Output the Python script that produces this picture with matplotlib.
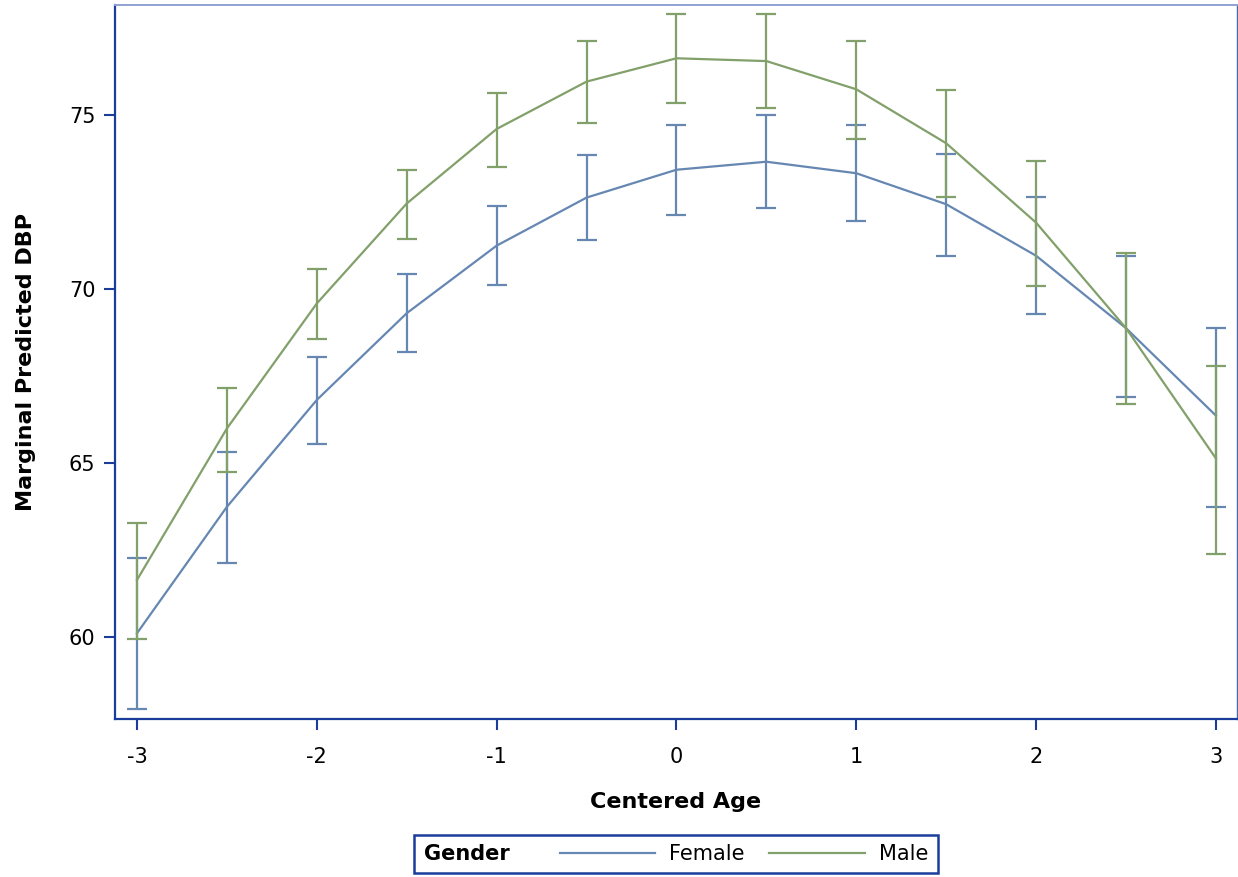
import numpy as np
import matplotlib.pyplot as plt
from matplotlib.offsetbox import HPacker

# data
age = [-3, -2.5, -2, -1.5, -1, -0.5, 0, 0.5, 1, 1.5, 2, 2.5, 3]

female_mean = [60.12, 63.75, 66.82, 69.31, 71.25, 72.63, 73.43, 73.66, 73.33, 72.44, 70.96, 68.88, 66.37]
female_upper = [62.27, 65.33, 68.04, 70.43, 72.39, 73.85, 74.71, 75.00, 74.71, 73.89, 72.64, 70.96, 68.90]
female_lower = [57.94, 62.15, 65.57, 68.20, 70.11, 71.40, 72.13, 72.32, 71.96, 70.96, 69.29, 66.90, 63.75]

male_mean = [61.65, 66.00, 69.59, 72.46, 74.60, 75.96, 76.63, 76.55, 75.74, 74.19, 71.91, 68.88, 65.14]
male_upper = [63.28, 67.17, 70.57, 73.41, 75.63, 77.13, 77.89, 77.89, 77.14, 75.73, 73.69, 71.03, 67.80]
male_lower = [59.96, 64.74, 68.57, 71.45, 73.52, 74.78, 75.35, 75.21, 74.32, 72.64, 70.10, 66.70, 62.40]

x_ticks = [-3, -2, -1, 0, 1, 2, 3]
y_ticks = [60, 65, 70, 75]

blue = '#6587b2'
green = '#82a06a'
axis_col = '#1a3d9c'

plt.rcParams['font.family'] = ['DejaVu Sans']

fig = plt.figure(figsize=(12.38, 8.77), dpi=100)
ax = fig.add_axes([115/1238, 1 - 719/877, 1122/1238, 714/877])

series = [('Female', female_mean, female_lower, female_upper, blue),
          ('Male', male_mean, male_lower, male_upper, green)]
handles = []
for name, m, lo, hi, col in series:
    m = np.array(m)
    yerr = [m - np.array(lo), np.array(hi) - m]
    ax.errorbar(age, m, yerr=yerr, fmt='none', ecolor=col, elinewidth=1.6,
                capsize=7.5, capthick=1.6)
    ln, = ax.plot(age, m, color=col, lw=1.6, label=name)
    handles.append(ln)

ax.set_xlim(-3.122, 3.117)
ax.set_ylim(57.66, 78.16)
ax.set_xticks(x_ticks)
ax.set_yticks(y_ticks)
ax.set_xticklabels([str(t) for t in x_ticks])

for side in ['left', 'bottom']:
    ax.spines[side].set_color(axis_col)
    ax.spines[side].set_linewidth(1.6)
ax.spines['top'].set_color('#8ea2d2')
ax.spines['top'].set_linewidth(1.4)
ax.spines['right'].set_color('#4a68b0')
ax.spines['right'].set_linewidth(1.0)

ax.tick_params(axis='both', colors=axis_col, labelcolor='black', labelsize=15,
               length=8, width=1.5, direction='out')
ax.tick_params(axis='y', pad=6)
ax.tick_params(axis='x', pad=12)

ax.set_xlabel('Centered Age', fontsize=16, fontweight='bold', labelpad=18)
ax.set_ylabel('Marginal Predicted DBP', fontsize=16, fontweight='bold', labelpad=24)

leg = fig.legend(handles=handles, labels=['Female', 'Male'], title='Gender',
                 ncol=2, loc='center', bbox_to_anchor=(676/1238, 1 - 854/877),
                 fontsize=15, title_fontsize=15, handlelength=4.6,
                 handletextpad=0.65, columnspacing=1.2, borderpad=0.45,
                 frameon=True, fancybox=False, framealpha=1,
                 edgecolor=axis_col)
leg.get_frame().set_linewidth(1.8)
leg.get_title().set_fontweight('bold')

# put the legend title on the same row as the entries
row = HPacker(pad=0, sep=36, align='center',
              children=[leg._legend_title_box, leg._legend_handle_box])
leg._legend_box._children = [row]

fig.savefig('out.png', dpi=100)
